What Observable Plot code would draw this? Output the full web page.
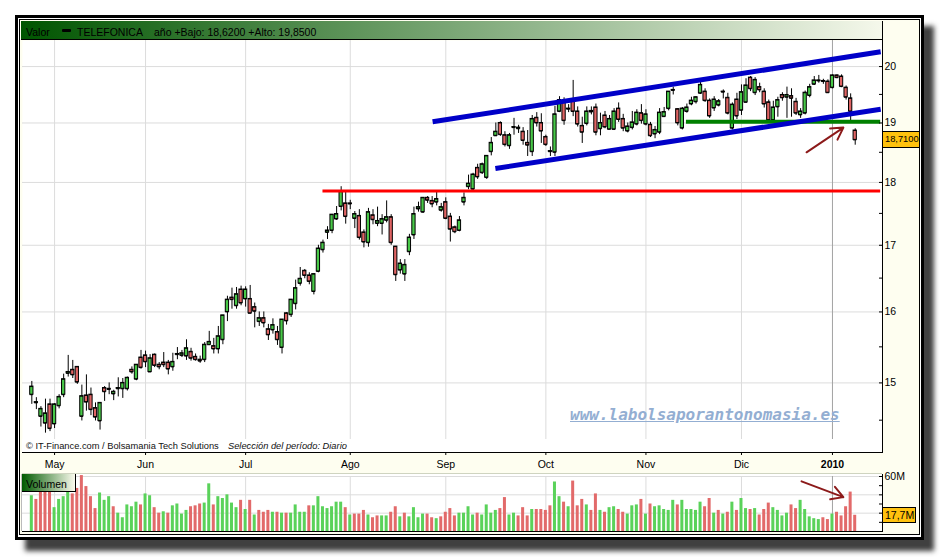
<!DOCTYPE html>
<html>
<head>
<meta charset="utf-8">
<script src="https://cdn.jsdelivr.net/npm/d3@7"></script>
<script src="https://cdn.jsdelivr.net/npm/@observablehq/plot@0.6"></script>
<style>
  html, body { margin:0; padding:0; background:#fff; }
  #root { position:relative; width:940px; height:557px; overflow:hidden; font-family:"Liberation Sans", Arial, sans-serif; color:#000; }
  .a { position:absolute; }
  .hd { position:absolute; top:26px; font-size:10.5px; line-height:12px; white-space:nowrap; color:#000; }
</style>
</head>
<body>
<div id="root">
  <div class="a" style="left:15px;top:15px;width:909px;height:525px;border:3px solid #000;box-sizing:border-box;box-shadow:10px 11px 5px rgba(30,30,30,0.85);background:#fff;"></div>
  <div class="a" style="left:19px;top:19px;width:901px;height:516px;border:1px solid #000;box-sizing:border-box;background:#fefef0;"></div>
  <div class="a" style="left:21px;top:21px;width:861px;height:19px;box-sizing:border-box;border-bottom:1px solid #000;background:linear-gradient(to right,#005500,#f5f8eb);"></div>
  <div class="hd" style="left:26px;">Valor</div>
  <div class="a" style="left:62px;top:29px;width:9px;height:3px;background:#000;border-radius:1px;"></div>
  <div class="hd" style="left:77px;">TELEFONICA</div>
  <div class="hd" style="left:154px;">año +Bajo: 18,6200 +Alto: 19,8500</div>
  <div class="a" style="left:22px;top:474px;width:860px;height:57px;background:#fff;"></div>
  <div class="a" id="pricePlot" style="left:21px;top:40px;"></div>
  <div class="a" id="volPlot" style="left:21px;top:474px;"></div>
  <div class="a" style="left:22px;top:439px;width:860px;height:13px;background:#fff;font-size:9.3px;line-height:13px;white-space:nowrap;color:#111;">
    <span style="position:absolute;left:4px;top:1px;">© IT-Finance.com / Bolsamania Tech Solutions</span>
    <span style="position:absolute;left:206px;top:1px;font-style:italic;">Selección del período: Diario</span>
  </div>
  <div class="a" style="left:22px;top:452px;width:861px;height:1px;background:#000;"></div>
  <div class="a" style="left:882px;top:21px;width:1px;height:432px;background:#000;"></div>
  <div class="a" style="left:22px;top:473px;width:860px;height:1px;background:#cfd4c0;"></div>
  <div class="a" style="left:21px;top:474px;width:1px;height:57px;background:#bbb;"></div>
  <div class="a" style="left:22px;top:531px;width:861px;height:1px;background:#000;"></div>
  <div class="a" style="left:882px;top:474px;width:1px;height:58px;background:#000;"></div>
  <div class="a" style="left:22px;top:474px;width:54px;height:18px;box-sizing:border-box;border-right:1px solid #000;border-bottom:1px solid #000;background:linear-gradient(to right,#005a00,#fbfbee);"></div>
  <div class="a" style="left:26px;top:478px;font-size:10.5px;line-height:12px;">Volumen</div>
  <div class="a" style="left:570px;top:406px;font-family:'DejaVu Sans Mono',monospace;font-style:oblique;font-weight:bold;font-size:16px;line-height:18px;color:#93aed2;text-decoration:underline;white-space:nowrap;">www.labolsaporantonomasia.es</div>
  <div class="a" id="lastBox" style="left:882px;width:37px;height:17px;box-sizing:border-box;border:1px solid #000;border-right:none;background:#ffc20e;font-size:9.3px;line-height:15px;padding-left:2px;white-space:nowrap;"></div>
  <div class="a" id="volBox" style="left:882px;width:34px;height:16px;box-sizing:border-box;border:1px solid #000;background:#ffc20e;font-size:10.5px;line-height:14px;padding-left:2px;white-space:nowrap;"></div>
</div>
<script>
// ---- Data ----
const open = [14.84,14.73,14.55,14.46,14.71,14.45,14.69,14.84,15.13,15.18,
15.22,14.55,14.83,14.84,14.66,14.49,14.93,14.92,14.85,14.92,
14.92,14.92,15.18,15.05,15.35,15.38,15.15,15.39,15.25,15.28,
15.28,15.22,15.39,15.38,15.37,15.43,15.36,15.32,15.32,15.53,
15.51,15.47,15.60,16.00,16.21,16.09,16.33,16.19,16.19,16.07,
15.86,15.91,15.75,15.74,15.71,15.49,15.98,15.96,16.12,16.42,
16.61,16.54,16.30,16.60,16.93,17.20,17.23,17.41,17.61,17.66,
17.66,17.42,17.46,17.20,17.04,17.47,17.34,17.34,17.39,17.44,
16.98,16.62,16.56,16.90,17.16,17.57,17.52,17.75,17.70,17.68,
17.55,17.68,17.45,17.28,17.23,17.68,17.93,17.89,18.24,18.16,
18.08,18.51,18.78,19.00,18.79,18.61,18.92,18.90,18.85,18.66,
18.51,19.09,19.00,18.76,18.51,18.50,19.20,19.36,19.25,19.38,
19.20,18.95,18.99,19.21,19.27,18.90,19.13,18.89,18.89,19.25,
19.07,18.86,18.92,18.98,19.17,18.98,18.97,18.81,18.84,19.11,
19.25,19.57,19.24,18.91,19.20,19.33,19.37,19.52,19.55,19.39,
19.26,19.31,19.55,19.44,18.91,19.41,19.22,19.36,19.80,19.53,
19.63,19.55,19.36,19.05,19.28,19.49,19.45,19.47,19.37,19.14,
19.17,19.48,19.68,19.74,19.74,19.73,19.62,19.84,19.82,19.62,
19.43,18.87];
const high = [15.02,14.80,14.68,14.78,14.78,14.72,14.84,15.12,15.38,15.31,
15.22,14.97,15.11,14.93,14.73,14.73,14.95,15.00,14.90,15.07,
15.06,15.08,15.22,15.25,15.45,15.44,15.39,15.40,15.28,15.42,
15.31,15.41,15.49,15.45,15.60,15.48,15.40,15.37,15.56,15.72,
15.62,15.79,15.95,16.23,16.35,16.36,16.38,16.37,16.39,16.13,
16.00,16.00,15.82,15.90,15.79,15.89,15.99,16.18,16.47,16.66,
16.63,16.58,16.56,17.00,17.08,17.29,17.48,17.61,17.93,17.85,
17.71,17.53,17.56,17.24,17.58,17.56,17.60,17.48,17.70,17.48,
16.98,16.78,16.78,17.17,17.60,17.68,17.75,17.77,17.77,17.84,
17.66,17.75,17.50,17.30,17.45,17.83,18.12,18.15,18.30,18.32,
18.44,18.75,19.00,19.02,18.85,18.82,19.08,18.96,18.92,18.87,
19.13,19.18,19.16,18.79,18.59,19.29,19.46,19.44,19.32,19.75,
19.28,19.10,19.28,19.28,19.33,19.17,19.20,19.13,19.25,19.35,
19.15,19.00,19.20,19.23,19.32,19.23,19.01,18.94,19.25,19.27,
19.55,19.63,19.25,19.27,19.33,19.45,19.46,19.72,19.60,19.42,
19.46,19.41,19.58,19.52,19.35,19.52,19.67,19.78,19.82,19.80,
19.70,19.60,19.40,19.38,19.45,19.53,19.63,19.60,19.43,19.25,
19.56,19.68,19.82,19.84,19.77,19.76,19.85,19.85,19.85,19.65,
19.51,18.90];
const low = [14.71,14.64,14.41,14.33,14.35,14.39,14.65,14.80,15.08,15.06,
14.98,14.49,14.62,14.56,14.49,14.37,14.75,14.84,14.76,14.81,
14.79,14.89,15.12,15.03,15.19,15.21,15.15,15.21,15.18,15.21,
15.11,15.16,15.32,15.35,15.31,15.30,15.30,15.27,15.28,15.52,
15.40,15.40,15.53,15.86,16.04,16.04,16.09,16.07,15.98,15.77,
15.79,15.77,15.59,15.68,15.52,15.40,15.81,15.92,16.03,16.38,
16.49,16.40,16.25,16.58,16.88,17.09,17.18,17.39,17.54,17.33,
17.56,17.26,17.08,16.96,16.97,17.32,17.29,17.16,17.35,17.00,
16.45,16.56,16.45,16.84,17.09,17.52,17.50,17.66,17.59,17.62,
17.52,17.40,17.05,17.18,17.21,17.62,17.88,17.85,18.05,18.13,
18.05,18.44,18.77,18.77,18.59,18.55,18.79,18.82,18.62,18.43,
18.43,18.93,18.65,18.60,18.43,18.43,19.18,18.96,19.18,19.11,
18.93,18.65,18.95,19.14,18.78,18.78,18.90,18.89,18.87,19.01,
18.85,18.83,18.88,18.95,18.98,18.95,18.75,18.73,18.80,19.10,
19.21,19.49,18.95,18.88,19.17,19.30,19.33,19.50,19.36,19.08,
19.20,19.28,19.42,19.14,18.88,19.06,19.13,19.35,19.55,19.48,
19.53,19.26,19.00,19.02,19.10,19.38,19.08,19.10,19.13,19.08,
19.14,19.44,19.66,19.70,19.68,19.52,19.60,19.78,19.62,19.40,
19.04,18.62];
const close = [14.95,14.74,14.65,14.59,14.39,14.71,14.81,15.05,15.15,15.11,
15.01,14.82,14.74,14.64,14.54,14.73,14.88,14.91,14.88,14.93,
15.00,15.07,15.15,15.25,15.21,15.29,15.34,15.24,15.22,15.25,
15.19,15.29,15.40,15.41,15.48,15.34,15.32,15.30,15.53,15.57,
15.47,15.65,15.95,16.18,16.18,16.26,16.13,16.33,15.98,16.01,
15.91,15.84,15.67,15.81,15.60,15.89,15.87,16.18,16.35,16.49,
16.54,16.45,16.56,16.95,17.04,17.23,17.48,17.49,17.85,17.45,
17.65,17.49,17.12,17.05,17.52,17.40,17.38,17.41,17.44,17.04,
16.55,16.72,16.70,17.12,17.49,17.60,17.75,17.71,17.65,17.73,
17.60,17.42,17.25,17.21,17.39,17.75,17.98,18.13,18.09,18.30,
18.44,18.66,18.85,18.80,18.63,18.79,18.93,18.92,18.70,18.62,
19.07,19.00,18.86,18.63,18.52,19.15,19.40,19.04,19.24,19.20,
18.98,18.84,19.20,19.19,18.84,19.00,18.93,19.07,19.20,19.06,
18.91,18.94,19.01,19.18,19.04,19.15,18.78,18.88,19.18,19.19,
19.55,19.58,19.00,19.25,19.27,19.39,19.45,19.67,19.39,19.12,
19.41,19.38,19.54,19.17,19.32,19.12,19.54,19.66,19.60,19.76,
19.58,19.33,19.05,19.27,19.40,19.44,19.49,19.43,19.17,19.20,
19.53,19.63,19.75,19.75,19.73,19.53,19.84,19.80,19.64,19.45,
19.20,18.71];
// volume in millions of shares
const volume = [39,35,44,46,45,26,35,38,43,41,
47,61,49,38,25,42,34,38,27,20,
15,29,27,32,29,41,39,26,20,21.5,
20,28,30,19,23,27,28,30,31,52,
29,38,36,40,31,26,34,24,34,18,
23,21,23,21,21,20,20,20,29,21,
21,28,28,38,27,25,27,32,32,26,
18,19,19,23,18,15,17,17,17,21,
27,16,20,16,26,15,19,19,15,14,
16,21,25,17,20,20,27,18,20,18,
29,20,23,25,37,18,20,17,26,17,
24,24,24,23,28,54,38,32,27,55,
28,35,29,23,41,23,21,26,27,24,
21,19,28,29,35,19,30,27,28,24,
23,34,29,34,24,24,23,32,27,36,
20,23,19,21,32,23,36,25,24,25,
18,24,31,26,23,17,20,29,25,34,
24,16,14,13,15,13,19,21,17,27,
43,17.7];

// x axis: trading-day index of the first session of each month
const monthLabels = ["May","Jun","Jul","Ago","Sep","Oct","Nov","Dic","2010"];
const monthIdx    = [5, 25, 47, 70, 91, 113, 135, 156, 176];
const priceTicks  = [15, 16, 17, 18, 19, 20];
const priceMinorTicks = [14.5, 15, 15.5, 16, 16.5, 17, 17.5, 18, 18.5, 19, 19.5, 20];
const volGrid     = [20, 40, 60];
const volTicks    = [10, 20, 30, 40, 50, 60];
const volLabelTicks = [60];

// drawn annotations (in trading-day index / price units)
const channelUpper = [{i: 88.1, p: 19.02}, {i: 186.6, p: 20.27}];
const channelLower = [{i: 101.9, p: 18.23}, {i: 186.6, p: 19.24}];
const supportGreen = [{from: 143.9, to: 186.6, p: 19.02}];
const supportRed   = [{from: 64.0, to: 186.6, p: 17.86}];
const priceArrow   = [{i1: 170.3, p1: 18.50, i2: 178.4, p2: 18.92}];
const volArrow     = [{i1: 169.2, v1: 54.7, i2: 178.4, v2: 37.5}];

// ---- Build ----
const G = "#48c848", R = "#e06464", VG = "#5ad25a", VR = "#e26a6a";
const N = close.length;
const rows = d3.range(N).map(i => ({
  i, o: open[i], h: high[i], l: low[i], c: close[i], v: volume[i],
  up: close[i] >= open[i],
  volUp: i === 0 ? true : close[i] >= close[i - 1]
}));
const hw = 0.36, vw = 0.33;
const xDomain = [-2.05, 187];
const labelOf = new Map(monthIdx.map((d, k) => [d, monthLabels[k]]));
const lastIdx = monthIdx[monthIdx.length - 1];
const regularMonths = monthIdx.slice(0, -1);

const pricePlot = Plot.plot({
  width: 898, height: 433,
  marginLeft: 1, marginRight: 37, marginTop: 0, marginBottom: 21,
  style: {background: "transparent", fontFamily: "'Liberation Sans', Arial, sans-serif", fontSize: "10.5px", color: "#000", overflow: "visible"},
  x: {domain: xDomain, axis: null},
  y: {type: "log", domain: [14.08, 20.48], axis: null},
  marks: [
    Plot.frame({fill: "#fff"}),
    Plot.ruleY(priceTicks, {stroke: "#dcdcdc"}),
    Plot.ruleX(regularMonths, {stroke: "#dcdcdc"}),
    Plot.ruleX([lastIdx], {stroke: "#a3a3a3"}),
    Plot.ruleX(rows, {x: "i", y1: "l", y2: "h", stroke: "#000", strokeWidth: 1}),
    Plot.rect(rows, {x1: d => d.i - hw, x2: d => d.i + hw, y1: "o", y2: "c", fill: d => d.up ? G : R, stroke: "#000", strokeWidth: 1}),
    Plot.ruleY(rows, {y: "o", x1: d => d.i - hw, x2: d => d.i + hw, stroke: "#000", strokeWidth: 1}),
    Plot.ruleY(rows, {y: "c", x1: d => d.i - hw, x2: d => d.i + hw, stroke: "#000", strokeWidth: 1}),
    Plot.ruleY(supportRed, {y: "p", x1: "from", x2: "to", stroke: "#ff0000", strokeWidth: 3}),
    Plot.ruleY(supportGreen, {y: "p", x1: "from", x2: "to", stroke: "#008000", strokeWidth: 4}),
    Plot.line(channelUpper, {x: "i", y: "p", stroke: "#0000c8", strokeWidth: 5, strokeLinecap: "butt"}),
    Plot.line(channelLower, {x: "i", y: "p", stroke: "#0000c8", strokeWidth: 5, strokeLinecap: "butt"}),
    Plot.arrow(priceArrow, {x1: "i1", y1: "p1", x2: "i2", y2: "p2", stroke: "#8c1a1a", strokeWidth: 2, headLength: 10}),
    Plot.axisY(priceMinorTicks, {anchor: "right", tickSize: -4, tickFormat: () => "", label: null}),
    Plot.axisY(priceTicks, {anchor: "right", tickSize: 0, tickPadding: 2, tickFormat: d => String(d), label: null, fontSize: 10.5}),
    Plot.axisX(regularMonths, {anchor: "bottom", tickSize: 3, tickPadding: 5, tickFormat: d => labelOf.get(d), label: null, fontSize: 10.5}),
    Plot.axisX([lastIdx], {anchor: "bottom", tickSize: 3, tickPadding: 5, tickFormat: d => labelOf.get(d), label: null, fontSize: 10.5, fontWeight: "bold"})
  ]
});
document.getElementById("pricePlot").appendChild(pricePlot);

const volPlot = Plot.plot({
  width: 898, height: 58,
  marginLeft: 1, marginRight: 37, marginTop: 2, marginBottom: 1,
  style: {background: "transparent", fontFamily: "'Liberation Sans', Arial, sans-serif", fontSize: "10.5px", color: "#000", overflow: "visible"},
  x: {domain: xDomain, axis: null},
  y: {domain: [0, 60], axis: null},
  marks: [
    Plot.ruleY(volGrid, {stroke: "#dcdcdc"}),
    Plot.ruleX(regularMonths, {stroke: "#dcdcdc"}),
    Plot.ruleX([lastIdx], {stroke: "#a3a3a3"}),
    Plot.rectY(rows, {x1: d => d.i - vw, x2: d => d.i + vw, y: "v", fill: d => d.volUp ? VG : VR}),
    Plot.arrow(volArrow, {x1: "i1", y1: "v1", x2: "i2", y2: "v2", stroke: "#8c1a1a", strokeWidth: 2, headLength: 10}),
    Plot.axisY(volTicks, {anchor: "right", tickSize: -4, tickFormat: () => "", label: null}),
    Plot.axisY(volLabelTicks, {anchor: "right", tickSize: 0, tickPadding: 2, tickFormat: d => d + "M", label: null, fontSize: 10.5})
  ]
});
document.getElementById("volPlot").appendChild(volPlot);

// value boxes placed through the plots' own scales
const fmt = (v, n) => v.toFixed(n).replace(".", ",");
const yP = pricePlot.scale("y").apply(close[N - 1]) + 40;
const lastBox = document.getElementById("lastBox");
lastBox.textContent = fmt(close[N - 1], 4);
lastBox.style.top = (yP - 8.5) + "px";
const yV = volPlot.scale("y").apply(volume[N - 1]) + 474;
const volBox = document.getElementById("volBox");
volBox.textContent = fmt(volume[N - 1], 1) + "M";
volBox.style.top = (yV - 8) + "px";
</script>
</body>
</html>
